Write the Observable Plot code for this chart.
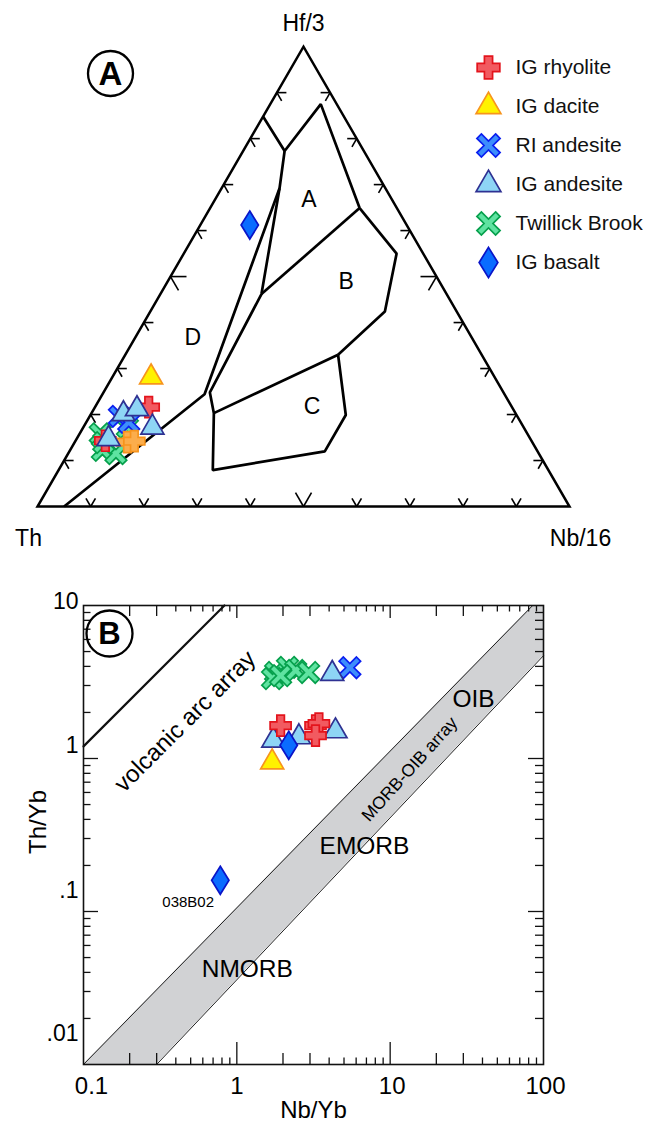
<!DOCTYPE html>
<html>
<head>
<meta charset="utf-8">
<script src="https://cdn.jsdelivr.net/npm/d3@7"></script>
<script src="https://cdn.jsdelivr.net/npm/@observablehq/plot@0.6"></script>
<style>
  html, body { margin:0; padding:0; background:#fff; }
  #wrap { position:relative; width:647px; height:1124px; overflow:hidden; font-family:"Liberation Sans", Arial, sans-serif; }
  #wrap svg { display:block; }
  #legend { position:absolute; left:460px; top:40px; }
</style>
</head>
<body>
<div id="wrap"><div id="panelA"></div><div id="panelB"></div><div id="legend"></div></div>
<script>
// ================= DATA =================
const seriesNames = ["IG rhyolite", "IG dacite", "RI andesite", "IG andesite", "Twillick Brook", "IG basalt"];

// Panel A – ternary Th : Hf/3 : Nb/16 (percent) as [Th, Hf/3, Nb/16]
const ternTwillick   = [[80.3,15.8,3.9],[81.7,12.2,6.1],[79.5,11.5,9.0],[74.5,17.2,8.3],[80.6,13.9,5.5]];
const ternRIandesite = [[74.8,19.6,5.6],[73.7,18.3,8.0]];
const ternRhyolite   = [[68.3,21.6,10.1],[80.1,14.3,5.6]];
const ternOrange     = [[76.1,14.0,9.9],[74.7,14.2,11.1]];
const ternIGandesite = [[73.8,20.1,6.1],[70.7,21.2,8.1],[69.8,17.2,13.0],[79.3,14.7,6.0]];
const ternDacite     = [[64.6,28.1,7.3]];
const ternBasalt     = [[29.5,61.2,9.3]];

// Panel A – field boundaries (polylines) [Th, Hf/3, Nb/16]
const fieldLines = [
  [[15.2,84.8,0],[14.9,77.3,7.8],[3.0,87.5,9.5],[7.0,64.9,28.1],[5.0,55.0,40.0],[13.5,42.4,44.1],[27.0,33.0,40.0]],
  [[14.9,77.3,7.8],[19.9,69.2,10.9],[34.8,46.2,19.0],[55.2,24.8,20.0],[56.7,20.3,23.0],[63.1,7.9,29.0],[40.0,12.0,48.0],[32.1,19.9,48.0],[27.0,33.0,40.0]],
  [[7.0,64.9,28.1],[34.8,46.2,19.0]],
  [[56.7,20.3,23.0],[27.0,33.0,40.0]],
  [[19.9,69.2,10.9],[56.4,24.4,19.2],[95.0,0,5.0]]
];
const fieldLabels = ["A", "B", "C", "D"];
const fieldLabelPos = [[15.6,66.8,17.6],[17.6,48.8,33.6],[37.5,21.8,40.7],[52.4,36.8,10.8]];
const cornerLabels = ["Th", "Nb/16", "Hf/3"];
const tickFractions = [0.1,0.2,0.3,0.4,0.5,0.6,0.7,0.8,0.9];

// Panel B – [Nb/Yb, Th/Yb]
const bTwillick   = [[1.79,3.65],[2.14,3.94],[2.42,3.76],[2.94,3.65],[1.71,3.33],[1.93,3.48]];
const bRIandesite = [[5.46,3.92]];
const bIGandesite = [[4.19,3.58],[1.73,1.31],[2.54,1.38],[4.40,1.51]];
const bRhyolite   = [[1.93,1.64],[3.26,1.64],[3.43,1.69],[3.26,1.41]];
const bBasalt     = [[2.18,1.22],[0.78,0.16]];
const bDacite     = [[1.70,0.946]];
const arcLine   = [[0.1,1.2],[0.83,10]];
const morbUpper = [[0.1,0.01],[85,10]];
const morbLower = [[0.3,0.01],[100,4.7]];
const xTickVals = [0.1, 1, 10, 100];
const xTickText = ["0.1", "1", "10", "100"];
const yTickVals = [10, 1, 0.1, 0.01];
const yTickText = ["10", "1", ".1", ".01"];
const bAnnotations = [
  {text:"volcanic arc array", x:0.46, y:1.75},
  {text:"MORB-OIB array", x:13.4, y:0.85},
  {text:"OIB", x:35, y:2.43},
  {text:"EMORB", x:6.8, y:0.267},
  {text:"NMORB", x:1.17, y:0.042},
  {text:"038B02", x:0.71, y:0.115}
];

// ================= SYMBOLS =================
function makeSymbol(pts) {
  return { draw(ctx, size) {
    const r = Math.sqrt(size / Math.PI);
    ctx.moveTo(pts[0][0]*r, pts[0][1]*r);
    for (let i = 1; i < pts.length; i++) ctx.lineTo(pts[i][0]*r, pts[i][1]*r);
    ctx.closePath();
  }};
}
function plusPoints(t, L) {
  return [[-t,-L],[t,-L],[t,-t],[L,-t],[L,t],[t,t],[t,L],[-t,L],[-t,t],[-L,t],[-L,-t],[-t,-t]];
}
const c45 = Math.SQRT1_2;
const symPlus = makeSymbol(plusPoints(0.36, 1));
const symX = makeSymbol(plusPoints(0.3, 1.25).map(([a,b]) => [(a-b)*c45, (a+b)*c45]));
const symTri = makeSymbol([[0,-2*Math.sqrt(3)/3],[1,Math.sqrt(3)/3],[-1,Math.sqrt(3)/3]]);
const symDiamond = makeSymbol([[0,-1],[0.62,0],[0,1],[-0.62,0]]);

const styles = {
  "IG rhyolite":    {symbol:symPlus, fill:"#f25a60", stroke:"#e3141c", r:10.5},
  "IG dacite":      {symbol:symTri, fill:"#fff200", stroke:"#f7941d", r:11.5},
  "RI andesite":    {symbol:symX, fill:"#3d8efc", stroke:"#0a1ef0", r:9.8},
  "IG andesite":    {symbol:symTri, fill:"#8ed5f5", stroke:"#2e3192", r:11.5},
  "Twillick Brook": {symbol:symX, fill:"#5fe3a1", stroke:"#06a04c", r:9.8},
  "IG basalt":      {symbol:symDiamond, fill:"#0a6cff", stroke:"#0a14c8", r:14},
  "orange":         {symbol:symPlus, fill:"#fbad4c", stroke:"#f7941d", r:10.5}
};
const drawOrderA = [["Twillick Brook",ternTwillick],["RI andesite",ternRIandesite],["IG rhyolite",ternRhyolite],["orange",ternOrange],["IG andesite",ternIGandesite],["IG dacite",ternDacite],["IG basalt",ternBasalt]];
const drawOrderB = [["Twillick Brook",bTwillick],["RI andesite",bRIandesite],["IG andesite",bIGandesite],["IG rhyolite",bRhyolite],["IG basalt",bBasalt],["IG dacite",bDacite]];

const FONT = '"Liberation Sans", Arial, Helvetica, sans-serif';

// ================= PANEL A (ternary) =================
const S3 = Math.sqrt(3) / 2;
function proj(p) { const [th, hf, nb] = p; const s = th + hf + nb; return {x:(nb + hf/2)/s, y:hf*S3/s}; }
const cTh = proj([100,0,0]), cNb = proj([0,0,100]), cHf = proj([0,100,0]);
const triPath = [cTh, cNb, cHf, cTh, cNb];

// ternary ticks: chevrons on each edge
const centroid = {x:0.5, y:S3/3};
const edges = [[cTh, cNb], [cTh, cHf], [cNb, cHf]];
const tickSegs = [];
const UNIT = 532;
for (const [a, b] of edges) {
  const ex = b.x - a.x, ey = b.y - a.y, len = Math.hypot(ex, ey);
  let nx = -ey/len, ny = ex/len;
  const mx = (a.x+b.x)/2, my = (a.y+b.y)/2;
  if ((centroid.x-mx)*nx + (centroid.y-my)*ny < 0) { nx = -nx; ny = -ny; }
  for (const f of tickFractions) {
    const px = a.x + ex*f, py = a.y + ey*f;
    const L = (f === 0.5 ? 16 : 9.5) / UNIT;
    for (const ang of [Math.PI/6, -Math.PI/6]) {
      const dx = nx*Math.cos(ang) - ny*Math.sin(ang), dy = nx*Math.sin(ang) + ny*Math.cos(ang);
      tickSegs.push({x1:px, y1:py, x2:px + dx*L, y2:py + dy*L});
    }
  }
}
const fieldPts = fieldLines.flatMap((line, i) => line.map(p => ({...proj(p), z:i})));

const A = Plot.plot({
  width: 647, height: 560, margin: 0,
  x: {domain: [-37/532, (647-37)/532], axis: null},
  y: {domain: [-(560-506)/531, 506/531], axis: null},
  style: {fontFamily: FONT, color: "#000", background: "transparent"},
  marks: [
    Plot.line(fieldPts, {x:"x", y:"y", z:"z", stroke:"#000", strokeWidth:2.7, strokeLinejoin:"miter", strokeLinecap:"butt"}),
    Plot.line(triPath, {x:"x", y:"y", stroke:"#000", strokeWidth:2.5, strokeLinejoin:"miter", strokeMiterlimit:10}),
    Plot.link(tickSegs, {x1:"x1", y1:"y1", x2:"x2", y2:"y2", stroke:"#000", strokeWidth:1.6}),
    Plot.text(fieldLabelPos.map(proj), {x:"x", y:"y", text:(d,i) => fieldLabels[i], fontSize:23}),
    Plot.text([cTh], {x:"x", y:"y", text:() => cornerLabels[0], fontSize:23, dx:-9, dy:32}),
    Plot.text([cNb], {x:"x", y:"y", text:() => cornerLabels[1], fontSize:23, dx:11, dy:32}),
    Plot.text([cHf], {x:"x", y:"y", text:() => cornerLabels[2], fontSize:23, dy:-23}),
    ...drawOrderA.map(([name, pts]) => Plot.dot(pts.map(proj), {x:"x", y:"y", ...styles[name], strokeWidth:1.7})),
    Plot.dot([0], {frameAnchor:"top-left", dx:110, dy:73, r:22.5, fill:"none", stroke:"#000", strokeWidth:2.3}),
    Plot.text(["A"], {frameAnchor:"top-left", dx:110, dy:74, textAnchor:"middle", lineAnchor:"middle", fontSize:33, fontWeight:"bold", text:d => d})
  ]
});
document.getElementById("panelA").appendChild(A);

// ================= LEGEND =================
const legend = Plot.plot({
  width: 187, height: 245, marginLeft: 0, marginRight: 0, marginTop: 27, marginBottom: 23,
  y: {type: "point", domain: seriesNames, axis: null, padding: 0},
  style: {fontFamily: FONT, color: "#000", background: "transparent"},
  marks: [
    ...seriesNames.map(name => Plot.dot([name], {y: d => d, frameAnchor:"left", dx:28, ...styles[name], r: styles[name].r * 1.08, strokeWidth:1.7})),
    Plot.text(seriesNames, {y: d => d, frameAnchor:"left", dx:55, textAnchor:"start", fontSize:21, text: d => d, fill:"#111"})
  ]
});
document.getElementById("legend").appendChild(legend);

// ================= PANEL B =================
function logInterp(line, x) {
  const [[x0,y0],[x1,y1]] = line;
  const t = (Math.log(x) - Math.log(x0)) / (Math.log(x1) - Math.log(x0));
  return Math.exp(Math.log(y0) + t * (Math.log(y1) - Math.log(y0)));
}
const bandXs = [morbUpper[0][0], morbLower[0][0], morbUpper[1][0], morbLower[1][0]];
const band = bandXs.map(x => ({
  x,
  lo: x <= morbLower[0][0] ? morbLower[0][1] : logInterp(morbLower, x),
  hi: x >= morbUpper[1][0] ? morbUpper[1][1] : logInterp(morbUpper, x)
}));

const decadesX = [0.1, 1, 10];
const decadesY = [0.01, 0.1, 1];
const mult = (ds, ks) => ds.flatMap(d => ks.map(k => +(d*k).toPrecision(3)));
const xMajor = [1, 10];
const xMid = mult(decadesX, [2,3]);
const xSmall = mult(decadesX, [4,5,6,7,8,9]);
const yMajor = [0.1, 1];
const yMinor = mult(decadesY, [2,3,4,5,6,7,8,9]);

const MT = 45, MB = 60, ML = 83, MR = 104, BW = 647, BH = 564;
const H = BH - MT - MB, W = BW - ML - MR;
const tk = {stroke:"#111", strokeWidth:1.3};
const yDy = [-4, -13, -21, -31];
const xDx = [8, 0, 2, 2];
const ann = {};
bAnnotations.forEach(a => ann[a.text] = a);

const B = Plot.plot({
  width: BW, height: BH, marginTop: MT, marginBottom: MB, marginLeft: ML, marginRight: MR,
  x: {type: "log", domain: [0.1, 100], axis: null},
  y: {type: "log", domain: [0.01, 10], axis: null},
  style: {fontFamily: FONT, color: "#000", background: "transparent"},
  marks: [
    Plot.areaY(band, {x:"x", y1:"lo", y2:"hi", fill:"#d1d2d4"}),
    Plot.line(morbUpper, {x:d => d[0], y:d => d[1], stroke:"#222", strokeWidth:1}),
    Plot.line(morbLower, {x:d => d[0], y:d => d[1], stroke:"#222", strokeWidth:1}),
    Plot.line(arcLine, {x:d => d[0], y:d => d[1], stroke:"#111", strokeWidth:2.2}),
    // bottom ticks
    Plot.tickX(xMajor, {x:d => d, insetTop: H-22, ...tk}),
    Plot.tickX(xMid, {x:d => d, insetTop: H-11, ...tk}),
    Plot.tickX(xSmall, {x:d => d, insetTop: H-6.5, ...tk}),
    // top ticks
    Plot.tickX(xMajor, {x:d => d, insetBottom: H-13, ...tk}),
    Plot.tickX(xMid, {x:d => d, insetBottom: H-11, ...tk}),
    Plot.tickX(xSmall, {x:d => d, insetBottom: H-6.5, ...tk}),
    // left ticks
    Plot.tickY(yMajor, {y:d => d, insetRight: W-15, ...tk}),
    Plot.tickY(yMinor, {y:d => d, insetRight: W-7.5, ...tk}),
    // right ticks
    Plot.tickY(yMajor, {y:d => d, insetLeft: W-15, ...tk}),
    Plot.tickY(yMinor, {y:d => d, insetLeft: W-8, ...tk}),
    Plot.frame({stroke:"#111", strokeWidth:1.6}),
    // tick labels
    ...xTickVals.map((v, i) => Plot.text([v], {x:d => d, frameAnchor:"bottom", dy:22, dx:xDx[i], lineAnchor:"middle", textAnchor:"middle", fontSize:24, text:() => xTickText[i]})),
    ...yTickVals.map((v, i) => Plot.text([v], {y:d => d, frameAnchor:"left", dx:-5, dy:yDy[i], textAnchor:"end", lineAnchor:"middle", fontSize:23, text:() => yTickText[i]})),
    // axis titles
    Plot.text(["Th/Yb"], {frameAnchor:"left", dx:-45, dy:-13, rotate:-90, textAnchor:"middle", lineAnchor:"middle", fontSize:24, text:d => d}),
    Plot.text(["Nb/Yb"], {frameAnchor:"bottom", dy:46, textAnchor:"middle", lineAnchor:"middle", fontSize:24, text:d => d}),
    // annotations
    Plot.text([ann["volcanic arc array"]], {x:"x", y:"y", text:"text", rotate:-45, fontSize:24}),
    Plot.text([ann["MORB-OIB array"]], {x:"x", y:"y", text:"text", rotate:-48, fontSize:17.5}),
    Plot.text([ann["OIB"]], {x:"x", y:"y", text:"text", fontSize:24.5}),
    Plot.text([ann["EMORB"]], {x:"x", y:"y", text:"text", fontSize:24.5}),
    Plot.text([ann["NMORB"]], {x:"x", y:"y", text:"text", fontSize:24.5}),
    Plot.text([ann["038B02"]], {x:"x", y:"y", text:"text", textAnchor:"end", fontSize:15}),
    // data
    ...drawOrderB.map(([name, pts]) => Plot.dot(pts, {x:d => d[0], y:d => d[1], ...styles[name], strokeWidth:1.7})),
    // circled B
    Plot.dot([0], {frameAnchor:"top-left", dx:26, dy:28, r:23, fill:"none", stroke:"#000", strokeWidth:2.3}),
    Plot.text(["B"], {frameAnchor:"top-left", dx:26, dy:29, textAnchor:"middle", lineAnchor:"middle", fontSize:31, fontWeight:"bold", text:d => d})
  ]
});
document.getElementById("panelB").appendChild(B);
</script>
</body>
</html>
